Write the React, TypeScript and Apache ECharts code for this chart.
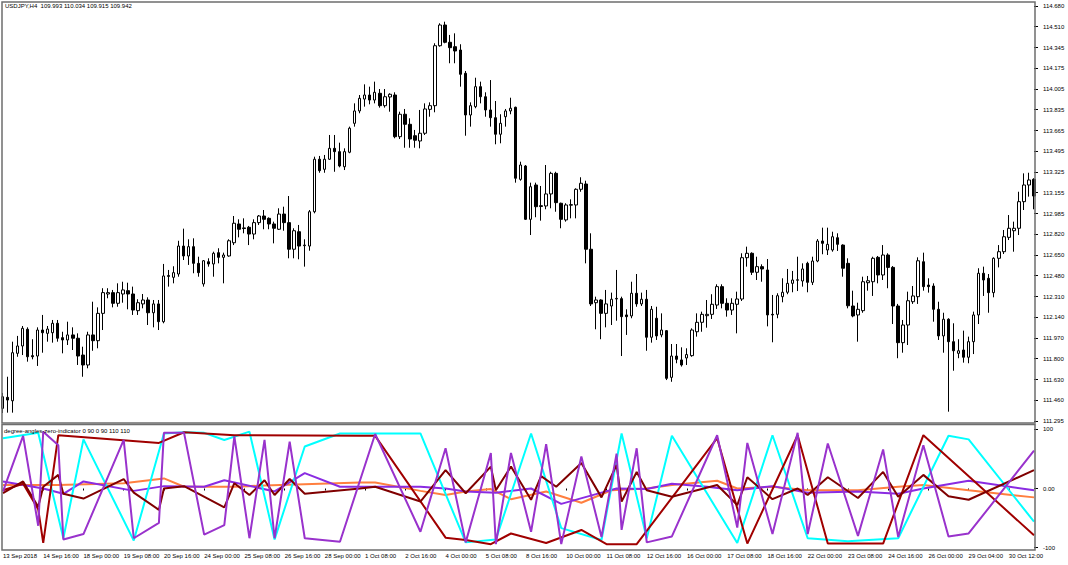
import React, { useEffect, useRef } from 'react';
import * as echarts from 'echarts';

// [open, high, low, close] per H4 bar
const ohlc: number[][] = [
  [111.398,111.524,111.360,111.493],[111.488,111.656,111.363,111.466],[111.460,111.942,111.363,111.852],[111.847,111.989,111.819,111.907],
  [111.907,112.070,111.833,112.051],[112.043,112.059,111.779,111.819],[111.828,111.962,111.798,111.819],[111.825,112.059,111.744,112.037],
  [112.037,112.160,111.852,112.015],[112.010,112.070,111.942,112.045],[112.015,112.119,111.934,112.092],[112.092,112.119,111.942,111.970],
  [111.975,112.023,111.847,111.956],[111.956,112.105,111.915,111.997],[111.997,112.059,111.874,111.970],[111.970,112.010,111.752,111.825],
  [111.833,111.901,111.656,111.752],[111.752,112.023,111.725,111.997],[111.997,112.268,111.868,111.950],[111.950,112.222,111.888,112.173],
  [112.173,112.378,112.037,112.342],[112.331,112.378,112.296,112.342],[112.342,112.364,112.222,112.255],[112.255,112.418,112.227,112.342],
  [112.331,112.431,112.260,112.364],[112.358,112.423,112.206,112.331],[112.331,112.391,112.160,112.200],[112.195,112.288,112.160,112.260],
  [112.250,112.331,112.214,112.282],[112.282,112.304,112.078,112.178],[112.178,112.282,112.059,112.250],[112.250,112.282,112.037,112.105],
  [112.105,112.576,112.092,112.478],[112.474,112.527,112.391,112.482],[112.467,112.557,112.418,112.505],[112.494,112.765,112.472,112.722],
  [112.722,112.864,112.608,112.641],[112.641,112.777,112.568,112.717],[112.717,112.785,112.500,112.581],[112.581,112.635,112.472,112.505],
  [112.413,112.608,112.391,112.602],[112.594,112.622,112.554,112.576],[112.576,112.676,112.472,112.663],[112.668,112.704,112.581,112.630],
  [112.630,112.668,112.418,112.649],[112.641,112.777,112.635,112.765],[112.749,112.967,112.730,112.908],[112.902,112.940,112.793,112.859],
  [112.870,112.948,112.826,112.865],[112.875,112.886,112.730,112.820],[112.820,112.940,112.777,112.913],[112.913,112.975,112.894,112.967],
  [112.967,113.016,112.859,112.940],[112.948,112.956,112.859,112.902],[112.902,112.921,112.744,112.867],[112.859,113.030,112.853,112.983],
  [112.983,113.043,112.847,112.913],[112.913,113.130,112.622,112.696],[112.696,112.867,112.622,112.847],[112.839,112.894,112.614,112.722],
  [112.725,112.777,112.554,112.730],[112.722,113.016,112.684,113.002],[113.002,113.451,112.989,113.430],[113.430,113.457,113.320,113.337],
  [113.348,113.465,113.320,113.430],[113.430,113.628,113.424,113.519],[113.519,113.628,113.328,113.492],[113.492,113.565,113.364,113.375],
  [113.369,113.519,113.342,113.492],[113.487,113.696,113.479,113.683],[113.723,113.886,113.696,113.824],[113.824,113.954,113.805,113.927],
  [113.921,114.041,113.859,113.954],[113.954,114.022,113.878,113.913],[113.913,114.063,113.886,113.976],[113.968,114.003,113.851,113.867],
  [113.867,114.003,113.851,113.940],[113.938,113.968,113.818,113.960],[113.954,113.976,113.601,113.614],[113.614,113.818,113.595,113.797],
  [113.797,113.840,113.524,113.715],[113.715,113.764,113.524,113.595],[113.622,113.669,113.524,113.585],[113.579,113.832,113.519,113.642],
  [113.642,113.886,113.628,113.840],[113.837,113.894,113.777,113.867],[113.867,114.376,113.813,114.356],[114.356,114.539,114.348,114.525],
  [114.525,114.552,114.376,114.384],[114.384,114.444,114.213,114.340],[114.348,114.457,114.213,114.313],[114.321,114.368,114.022,114.123],
  [114.131,114.150,113.622,113.791],[113.791,113.894,113.696,113.867],[113.859,114.095,113.846,114.022],[114.022,114.063,113.886,113.940],
  [113.940,113.976,113.777,113.832],[113.832,114.076,113.696,113.769],[113.769,113.905,113.552,113.634],[113.634,113.797,113.560,113.723],
  [113.777,113.840,113.696,113.824],[113.824,113.932,113.797,113.846],[113.854,113.859,113.239,113.275],[113.266,113.410,113.255,113.383],
  [113.375,113.383,112.935,112.940],[112.940,113.239,112.812,113.206],[113.220,113.239,112.957,113.043],[113.051,113.212,112.929,113.045],
  [113.049,113.383,113.022,113.147],[113.147,113.328,113.030,113.315],[113.315,113.328,113.002,113.076],[113.071,113.076,112.867,112.940],
  [112.935,113.071,112.921,113.057],[113.055,113.103,112.948,113.060],[113.057,113.193,112.948,113.185],[113.185,113.283,113.165,113.234],
  [113.228,113.255,112.581,112.696],[112.696,112.826,112.233,112.250],[112.260,112.309,112.043,112.282],[112.282,112.288,111.962,112.173],
  [112.173,112.364,112.059,112.250],[112.233,112.342,112.078,112.288],[112.290,112.527,112.113,112.295],[112.293,112.309,111.825,112.146],
  [112.160,112.206,111.997,112.146],[112.152,112.431,112.133,112.337],[112.337,112.494,112.227,112.250],[112.250,112.342,112.233,112.288],
  [112.288,112.364,111.868,111.978],[111.978,112.233,111.934,112.206],[112.133,112.227,111.956,111.989],[111.997,112.173,111.978,112.037],
  [112.032,112.037,111.629,111.643],[111.651,111.923,111.615,111.825],[111.825,111.923,111.766,111.798],[111.793,111.896,111.739,111.752],
  [111.809,111.888,111.752,111.837],[111.828,112.051,111.819,112.037],[112.023,112.173,111.983,112.100],[112.100,112.187,112.023,112.165],
  [112.154,112.282,112.056,112.165],[112.165,112.329,112.127,112.247],[112.241,112.410,112.209,112.391],[112.391,112.410,112.214,112.255],
  [112.255,112.296,112.146,112.200],[112.200,112.296,112.160,112.255],[112.247,112.350,112.010,112.290],[112.290,112.663,112.274,112.627],
  [112.627,112.717,112.554,112.663],[112.663,112.671,112.486,112.508],[112.508,112.635,112.445,112.554],[112.554,112.573,112.431,112.535],
  [112.527,112.616,112.067,112.160],[112.165,112.323,111.937,112.160],[112.165,112.337,112.133,112.317],[112.309,112.459,112.263,112.345],
  [112.345,112.535,112.329,112.418],[112.418,112.519,112.345,112.445],[112.443,112.635,112.355,112.447],[112.437,112.581,112.391,112.535],
  [112.581,112.594,112.345,112.426],[112.426,112.635,112.404,112.600],[112.600,112.779,112.590,112.763],[112.763,112.872,112.655,112.744],
  [112.690,112.872,112.649,112.736],[112.690,112.839,112.676,112.798],[112.790,112.826,112.682,112.736],[112.730,112.736,112.472,112.541],
  [112.581,112.622,112.214,112.235],[112.233,112.358,112.141,112.152],[112.160,112.260,111.942,112.206],[112.195,112.472,112.178,112.431],
  [112.423,112.478,112.358,112.439],[112.431,112.635,112.315,112.622],[112.630,112.641,112.418,112.486],[112.486,112.730,112.445,112.649],
  [112.649,112.663,112.378,112.548],[112.548,112.559,112.086,112.233],[112.233,112.250,111.807,111.934],[111.934,112.119,111.852,112.078],
  [112.078,112.350,111.915,112.276],[112.268,112.396,112.250,112.315],[112.309,112.630,112.250,112.602],[112.594,112.668,112.358,112.391],
  [112.404,112.459,112.342,112.391],[112.396,112.418,112.105,112.206],[112.206,112.268,111.956,111.989],[111.989,112.178,111.852,112.125],
  [112.125,112.133,111.371,111.942],[111.942,112.092,111.705,111.868],[111.847,111.962,111.807,111.868],[111.874,112.032,111.771,111.815],
  [111.815,111.983,111.766,111.942],[111.942,112.187,111.841,112.160],[112.160,112.541,112.086,112.500],[112.500,112.554,112.315,112.445],
  [112.459,112.494,112.178,112.342],[112.342,112.630,112.304,112.622],[112.622,112.730,112.548,112.676],[112.676,112.853,112.657,112.798],
  [112.793,112.975,112.771,112.867],[112.847,112.921,112.676,112.867],[112.867,113.165,112.812,113.084],[113.084,113.315,113.016,113.220],
  [113.220,113.320,113.125,113.261],[113.266,113.275,113.022,113.130],
];

const timeLabels = [
  '13 Sep 2018','14 Sep 16:00','18 Sep 00:00','19 Sep 08:00','20 Sep 16:00','24 Sep 00:00','25 Sep 08:00',
  '26 Sep 16:00','28 Sep 00:00','1 Oct 08:00','2 Oct 16:00','4 Oct 00:00','5 Oct 08:00','8 Oct 16:00',
  '10 Oct 00:00','11 Oct 08:00','12 Oct 16:00','16 Oct 00:00','17 Oct 08:00','18 Oct 16:00','22 Oct 00:00',
  '23 Oct 08:00','24 Oct 16:00','26 Oct 00:00','29 Oct 04:00','30 Oct 12:00',
];

const priceTicks = [
  '111.295','111.460','111.630','111.800','111.970','112.140','112.310','112.480','112.650','112.820','112.985',
  '113.155','113.325','113.495','113.665','113.835','114.005','114.175','114.345','114.510','114.680',
];
const indicatorTicks = ['-100', '0.00', '100'];

// indicator lines: [bar index, value] at the vertices
const cyanLine = [[0,85],[7,94],[12,-84],[16,83],[26,-88],[32,93],[36,95],[40,94],[44,82],[49,96],[54,-86],[60,71],[67,93],[83,93],[92,-91],[98,-86],[105,93],[111,-67],[119,-87],[123,93],[128,-84],[133,89],[146,-92],[153,90],[160,-84],[168,-89],[178,-84],[188,89],[192,83],[205,-56]];
const violetLine = [[0,-5],[4,89],[7,-63],[8,96],[11,73],[12,-86],[16,-77],[24,82],[26,-84],[31,-58],[32,94],[36,94],[40,-78],[44,-62],[46,88],[49,-84],[52,82],[54,-84],[57,79],[60,-84],[67,-90],[74,92],[83,-73],[88,68],[92,-91],[97,60],[98,-94],[101,60],[105,-73],[108,75],[111,-94],[115,54],[119,-82],[122,59],[123,-70],[126,68],[128,-91],[133,-81],[142,90],[146,-66],[148,77],[153,-77],[158,94],[160,-77],[164,76],[170,-80],[175,66],[178,-82],[183,73],[188,-81],[192,-76],[205,64]];
const redLine = [[0,-3],[4,8],[7,-35],[8,-92],[11,90],[31,77],[36,95],[46,90],[71,89],[74,89],[88,-83],[92,-87],[97,-94],[101,-76],[108,-92],[115,-70],[120,-94],[126,-94],[142,85],[148,-93],[158,90],[164,-93],[175,-93],[183,90],[205,-79]];
const maroonLine = [[0,-8],[4,12],[7,-31],[8,3],[11,23],[12,-9],[16,-17],[24,16],[26,-7],[31,-36],[32,0],[36,4],[44,-32],[46,9],[49,-11],[52,14],[54,-11],[57,16],[60,-9],[71,0],[74,3],[83,-22],[88,31],[92,-8],[97,37],[98,-3],[101,37],[105,-19],[107,21],[110,3],[115,43],[119,-15],[122,40],[123,-22],[126,28],[128,-3],[133,-14],[142,6],[146,-28],[148,19],[153,-18],[158,0],[160,-11],[164,19],[170,-16],[175,28],[178,-14],[183,23],[188,-13],[192,-19],[205,31]];
const orangeLine = [[0,6],[8,6],[11,6],[24,9],[32,17],[36,3],[46,3],[52,5],[71,10],[74,10],[83,-4],[88,-11],[92,-5],[97,-1],[101,-18],[108,-5],[115,-24],[121,-3],[128,0],[133,6],[142,13],[146,0],[153,3],[160,-3],[170,-3],[178,3],[183,6],[192,-3],[205,-15]];
const purpleLine = [[0,12],[8,0],[12,-9],[16,12],[26,-4],[32,4],[40,3],[44,14],[54,-5],[60,26],[67,3],[71,3],[83,3],[88,0],[92,-5],[98,-7],[105,0],[111,-26],[119,-7],[122,0],[128,-1],[133,8],[140,3],[146,-3],[153,4],[160,-7],[170,-5],[178,-9],[183,0],[192,13],[205,-3]];

const chartTitle = 'USDJPY,H4  109.993 110.034 109.915 109.942';
const indicatorTitle = 'degree-angles-zero-indicator 0 90 0 90 110 110';

const FONT = '"Liberation Sans", Arial, sans-serif';
const PRICE_MIN = 111.295;
const PRICE_MAX = 114.68;
const PRICE_STEP = (PRICE_MAX - PRICE_MIN) / 20;

export default function App() {
  const ref = useRef<HTMLDivElement>(null);
  useEffect(() => {
    if (!ref.current) return;
    const chart = echarts.init(ref.current, null, { renderer: 'svg' });
    const cats = ohlc.map((_, i) => String(i));
    const lineSeries = (data: number[][], color: string, width: number) => ({
      type: 'line',
      xAxisIndex: 1,
      yAxisIndex: 1,
      data,
      symbol: 'none',
      showSymbol: false,
      silent: true,
      lineStyle: { color, width },
    });
    const label = { fontSize: 6, fontFamily: FONT, color: '#000' };
    chart.setOption({
      animation: false,
      backgroundColor: '#ffffff',
      grid: [
        { left: 2.3, width: 1031.7, top: 6, height: 415 },
        { left: 2.3, width: 1031.7, top: 429.3, height: 118.4 },
      ],
      xAxis: [
        {
          type: 'category', gridIndex: 0, data: cats, boundaryGap: false,
          axisLine: { show: false }, axisTick: { show: false }, axisLabel: { show: false }, splitLine: { show: false },
        },
        {
          type: 'category', gridIndex: 1, data: cats, boundaryGap: false,
          axisLine: { show: false },
          axisTick: { show: true, interval: 7, length: 2, lineStyle: { color: '#000', width: 1 } },
          axisLabel: {
            ...label, interval: 7, align: 'left', margin: 5,
            formatter: (_v: string, idx: number) => timeLabels[idx / 8] ?? '',
          },
          splitLine: { show: false },
        },
      ],
      yAxis: [
        {
          type: 'value', gridIndex: 0, position: 'right', min: PRICE_MIN, max: PRICE_MAX, interval: PRICE_STEP,
          axisLine: { show: false },
          axisTick: { show: true, length: 4, lineStyle: { color: '#000', width: 1 } },
          axisLabel: {
            ...label, margin: 9,
            formatter: (v: number) => priceTicks[Math.round((v - PRICE_MIN) / PRICE_STEP)] ?? '',
          },
          splitLine: { show: false },
        },
        {
          type: 'value', gridIndex: 1, position: 'right', min: -100, max: 100, interval: 100,
          axisLine: { show: false },
          axisTick: { show: true, length: 4, lineStyle: { color: '#000', width: 1 } },
          axisLabel: {
            ...label, margin: 9,
            formatter: (v: number) => indicatorTicks[Math.round((v + 100) / 100)] ?? '',
          },
          splitLine: { show: false },
        },
      ],
      series: [
        {
          type: 'candlestick',
          xAxisIndex: 0,
          yAxisIndex: 0,
          barWidth: 3,
          silent: true,
          data: ohlc.map(([o, h, l, c]) => [o, c, l, h]),
          itemStyle: {
            color: '#ffffff', color0: '#000000',
            borderColor: '#000000', borderColor0: '#000000', borderWidth: 1,
          },
        },
        lineSeries(orangeLine, '#ff7f3f', 2),
        lineSeries(purpleLine, '#8a2be2', 2),
        lineSeries(cyanLine, '#00ffff', 2),
        lineSeries(redLine, '#a00000', 2),
        lineSeries(maroonLine, '#800000', 2),
        lineSeries(violetLine, '#9932cc', 2),
      ],
      graphic: [
        {
          type: 'rect', z: 100, silent: true,
          shape: { x: 2, y: 2, width: 1033, height: 421 },
          style: { fill: 'none', stroke: '#6e6e6e', lineWidth: 1.5 },
        },
        {
          type: 'rect', z: 100, silent: true,
          shape: { x: 2, y: 424.5, width: 1033, height: 125.5 },
          style: { fill: 'none', stroke: '#6e6e6e', lineWidth: 1.5 },
        },
        {
          type: 'text', z: 101, silent: true, x: 5, y: 6,
          style: { text: chartTitle, fontSize: 6, fontFamily: FONT, fill: '#000', verticalAlign: 'middle' },
        },
        {
          type: 'text', z: 101, silent: true, x: 4, y: 430.5,
          style: { text: indicatorTitle, fontSize: 6, fontFamily: FONT, fill: '#000', verticalAlign: 'middle' },
        },
      ],
    });
    return () => chart.dispose();
  }, []);
  return <div ref={ref} style={{ position: 'fixed', left: 0, top: 0, width: 1068, height: 565 }} />;
}
